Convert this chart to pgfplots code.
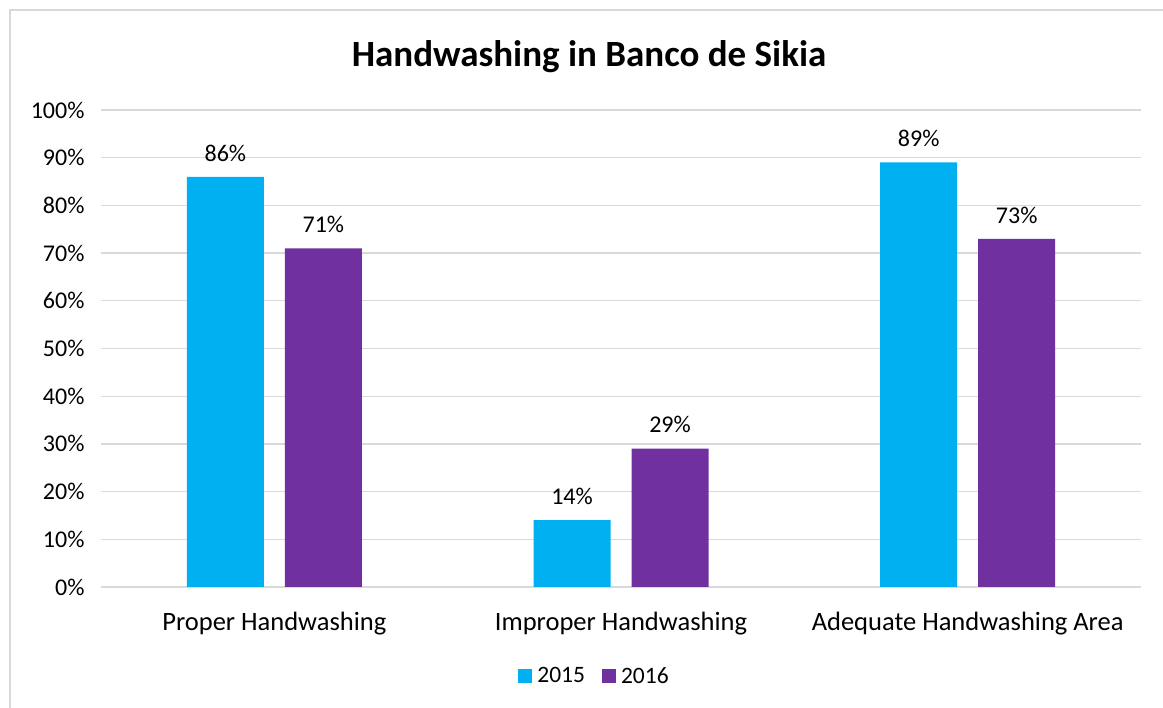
\documentclass[border=0pt]{standalone}
\usepackage{fontspec}
\setmainfont{Carlito}
\usepackage{pgfplots}
\pgfplotsset{compat=1.18}
\definecolor{cblue}{HTML}{00B0F0}
\definecolor{cpurple}{HTML}{7030A0}
\definecolor{cgrid}{HTML}{D9D9D9}
\begin{document}
\begin{tikzpicture}[x=1pt,y=1pt]
\path[use as bounding box] (0,0) rectangle (1163,708);
\draw[cgrid, line width=2pt] (10,0) -- (10,698) -- (1163,698);
\node[font=\fontsize{37}{44}\selectfont\bfseries] at (589,651) {Handwashing in Banco de Sikia};
\begin{axis}[
  at={(101pt,121pt)}, anchor=south west,
  width=1040pt, height=477pt, scale only axis,
  xmin=-0.5, xmax=2.5, ymin=0, ymax=100,
  ybar=21pt, bar width=77pt,
  xtick={0,1,2},
  xticklabels={Proper Handwashing, Improper Handwashing, Adequate Handwashing Area},
  ytick={0,10,...,100},
  yticklabels={0\%,10\%,20\%,30\%,40\%,50\%,60\%,70\%,80\%,90\%,100\%},
  ymajorgrids, grid style={cgrid, line width=1.3pt},
  axis lines*=left,
  x axis line style={cgrid, line width=1.3pt, -},
  y axis line style={draw=none},
  major tick length=0pt,
  tick label style={font=\fontsize{24}{28}\selectfont},
  xticklabel style={font=\fontsize{26.5}{32}\selectfont, yshift=-22pt},
  yticklabel style={xshift=-13pt},
  /pgf/number format/assume math mode=true,
  nodes near coords={\pgfmathprintnumber{\pgfplotspointmeta}\%},
  nodes near coords style={font=\fontsize{24}{28}\selectfont, text=black, anchor=south, yshift=12pt},
  legend style={at={(0.476,-0.1866)}, anchor=center, draw=none, fill=none,
    font=\fontsize{23.5}{28}\selectfont, legend columns=2,
    nodes={inner xsep=5pt},
    /tikz/every even column/.append style={column sep=12pt}},
  legend image code/.code={\fill[#1] (0pt,-7pt) rectangle (14pt,7pt);},
  every axis plot/.append style={draw=none},
]
\addplot[fill=cblue] coordinates {(0,86) (1,14) (2,89)};
\addplot[fill=cpurple] coordinates {(0,71) (1,29) (2,73)};
\legend{2015,2016}
\end{axis}
\end{tikzpicture}
\end{document}
